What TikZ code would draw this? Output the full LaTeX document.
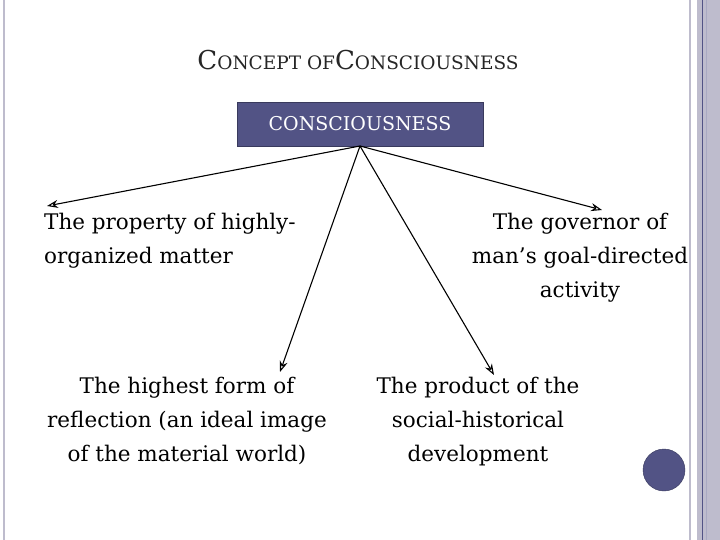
\documentclass[tikz,border=0pt]{standalone}
\usepackage{fontspec}
\setmainfont{DejaVu Serif}
\usetikzlibrary{arrows.meta}
\definecolor{slate}{RGB}{82,83,133}
\definecolor{bord}{RGB}{190,188,205}
\begin{document}
\begin{tikzpicture}[x=1pt,y=-1pt,
  txt/.style={font=\fontsize{21.5}{34}\selectfont,align=center,inner sep=0pt},
  arr/.style={-{Stealth[length=11pt,width=8pt,open]},line width=1.1pt}]
\useasboundingbox (0,0) rectangle (720,540);
\fill[white] (0,0) rectangle (720,540);
\draw[bord,line width=2pt] (4,0) -- (4,540);
\draw[bord,line width=2pt] (690,0) -- (690,540);
\fill[bord] (697,0) rectangle (720,540);
\draw[slate,line width=0.8pt] (702,0) -- (702,540);
\draw[slate!50,line width=0.8pt] (706,0) -- (706,540);
\node[font=\fontsize{26}{26}\selectfont,text=black!85] (title) at (358,60)
  {C{\fontsize{18.5}{18}\selectfont ONCEPT OF}C{\fontsize{18.5}{18}\selectfont ONSCIOUSNESS}};
\node[fill=slate,draw=slate!70!black,minimum width=246pt,minimum height=44pt,
  text=white,font=\fontsize{19}{19}\selectfont] (root) at (360,124) {CONSCIOUSNESS};
\coordinate (r) at (360,146);
\node[txt,align=left,anchor=north west] (a) at (44,213) {The property of highly-\\organized matter};
\node[txt,anchor=north] (b) at (580,213) {The governor of\\man’s goal-directed\\activity};
\node[txt,anchor=north] (c) at (187,377) {The highest form of\\reflection (an ideal image\\of the material world)};
\node[txt,anchor=north] (d) at (478,377) {The product of the\\social-historical\\development};
\draw[arr] (r) -- (47,206);
\draw[arr] (r) -- (602,210);
\draw[arr] (r) -- (280,372);
\draw[arr] (r) -- (494,375);
\node[circle,fill=slate,draw=slate!70!black,minimum size=42pt,inner sep=0pt] (dot) at (664,470) {};
\end{tikzpicture}
\end{document}
